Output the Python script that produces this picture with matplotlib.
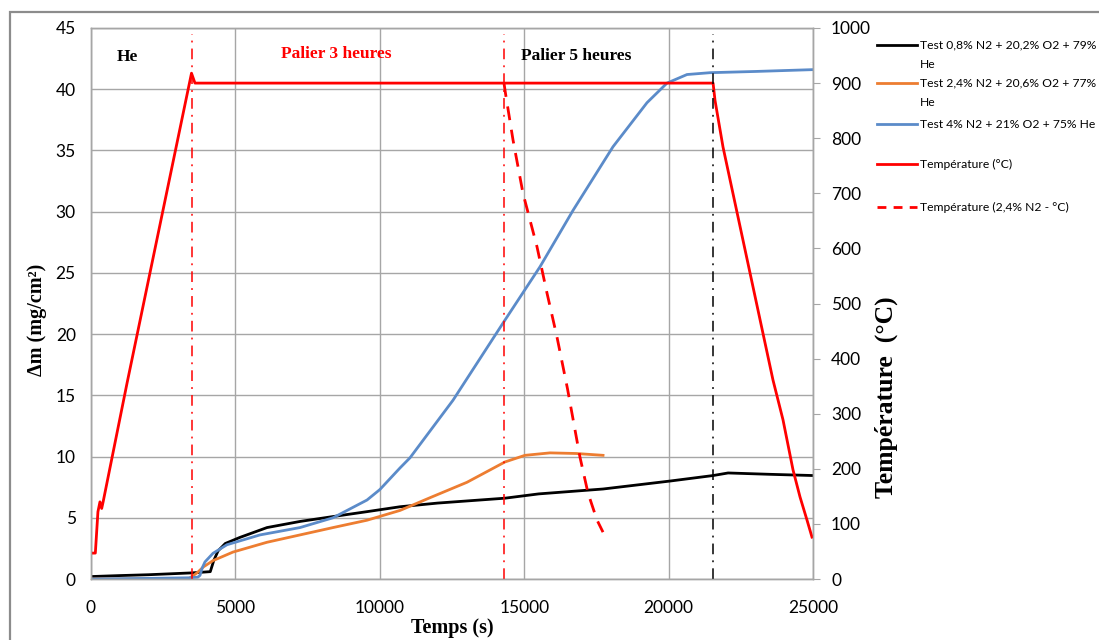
import numpy as np
import matplotlib
matplotlib.use("Agg")
import matplotlib.pyplot as plt
from matplotlib.lines import Line2D
from matplotlib.patches import Rectangle

# --- data ---
t_black = [0, 1000, 2000, 3000, 3500, 4130, 4250, 4400, 4650, 5160, 6094, 7237, 8380,
           9557, 10700, 12000, 14335, 15500, 17730, 20050, 21540, 22060, 23500, 25000]
m_black = [0.2, 0.28, 0.35, 0.45, 0.5, 0.6, 1.5, 2.3, 2.9, 3.4, 4.2, 4.7, 5.1,
           5.5, 5.9, 6.2, 6.6, 6.95, 7.35, 8.0, 8.45, 8.66, 8.55, 8.45]

t_orange = [0, 1500, 3000, 3400, 3670, 3900, 4225, 4917, 6094, 7237, 8380, 9557,
            10700, 11800, 13020, 14335, 15027, 15893, 16800, 17730]
m_orange = [0.0, 0.0, 0.0, 0.05, 0.5, 1.0, 1.5, 2.2, 3.0, 3.6, 4.2, 4.8,
            5.6, 6.7, 7.9, 9.56, 10.1, 10.3, 10.25, 10.1]

t_blue = [0, 2000, 3400, 3700, 3775, 3850, 3948, 4225, 4709, 5850, 7237, 8380, 9557,
          10000, 10700, 11046, 12535, 14266, 15547, 16689, 18074, 19252, 19945, 20637,
          21434, 23000, 25000]
m_blue = [0.0, 0.05, 0.1, 0.15, 0.3, 0.9, 1.4, 2.1, 2.8, 3.6, 4.2, 5.0, 6.45,
          7.3, 9.07, 9.9, 14.6, 20.9, 25.5, 30.1, 35.3, 38.9, 40.5, 41.2,
          41.35, 41.45, 41.6]

t_temp = [0, 150, 240, 310, 370, 420, 1246, 3480, 3600, 21540, 21606, 21884,
          23615, 23961, 24308, 24550, 24792, 24965]
T_temp = [47, 47, 122, 140, 128, 140, 355, 918, 900, 900, 869, 784,
          361, 289, 198, 149, 107, 76]

t_temp24 = [14300, 14350, 14612, 14958, 15443, 15789, 16136, 16500, 16932, 17209, 17521, 17729]
T_temp24 = [900, 882, 797, 700, 603, 519, 439, 345, 221, 156, 107, 85]

t_marks_red = [3500, 14300]
t_mark_black = 21540

labels = ["Test 0,8% N2 + 20,2% O2 + 79%\nHe",
          "Test 2,4% N2 + 20,6% O2 + 77%\nHe",
          "Test 4% N2 + 21% O2 + 75% He",
          "Température (°C)",
          "Température (2,4% N2 - °C)"]

sans = ["Lato", "DejaVu Sans"]
serif = ["Liberation Serif", "DejaVu Serif"]
plt.rcParams['font.family'] = sans

c_black = "black"
c_orange = "#ED7D31"
c_blue = "#5B8BC9"
c_red = "#FF0000"
c_grid = "#A6A6A6"

W, H = 1099, 640
fig = plt.figure(figsize=(W / 100, H / 100), dpi=100)
ax = fig.add_axes([91 / W, 1 - 579 / H, (813 - 91) / W, (579 - 28) / H])
ax2 = ax.twinx()

# outer frame of the chart
fig.patches.append(Rectangle((10 / W, -0.1), 1.2, 1 - 12 / H + 0.1, transform=fig.transFigure,
                             fill=False, edgecolor="#8C8C8C", lw=1.6))

ax.plot(t_black, m_black, color=c_black, lw=2)
ax.plot(t_orange, m_orange, color=c_orange, lw=2)
ax.plot(t_blue, m_blue, color=c_blue, lw=2)

ax2.plot(t_temp, T_temp, color=c_red, lw=2)
ax2.plot(t_temp24, T_temp24, color=c_red, lw=2, linestyle=(0, (5, 3.5)))
for t in t_marks_red:
    ax2.axvline(t, ymax=0.99, color=c_red, lw=1.1, linestyle=(0, (7, 4, 1.2, 4)))
ax2.axvline(t_mark_black, ymax=0.99, color=c_black, lw=1.1, linestyle=(0, (7, 4, 1.2, 4)))

ax.set_xlim(0, 25000)
ax.set_ylim(0, 45)
ax2.set_ylim(0, 1000)
ax.set_xticks(range(0, 25001, 5000))
ax.set_yticks(range(0, 46, 5))
ax2.set_yticks(range(0, 1001, 100))
ax.grid(True, color=c_grid, lw=1)
ax.set_axisbelow(True)

for a in (ax, ax2):
    for s in a.spines.values():
        s.set_color(c_grid)
        s.set_linewidth(1)
ax.tick_params(axis='both', length=0, labelsize=12.5)
ax.tick_params(axis='x', pad=15)
ax.tick_params(axis='y', pad=11)
ax2.tick_params(axis='y', length=5, color=c_grid, labelsize=12.5, pad=8)

ax.set_xlabel("Temps (s)", family=serif, fontweight="bold", fontsize=14.5)
ax.xaxis.set_label_coords(0.5, -0.071)
ax.set_ylabel("Δm (mg/cm²)", family=serif, fontweight="bold", fontsize=14.5)
ax.yaxis.set_label_coords(-0.061, 0.47)
ax2.set_ylabel("Température  (°C)", family=serif, fontweight="bold", fontsize=18.5)
ax2.yaxis.set_label_coords(1.085, 0.33)

ax.text(1250, 42.6, "He", family=serif, fontweight="bold", fontsize=12.5, ha="center", va="center")
ax.text(8500, 42.9, "Palier 3 heures", family=serif, fontweight="bold", fontsize=12.5,
        color=c_red, ha="center", va="center")
ax.text(16800, 42.7, "Palier 5 heures", family=serif, fontweight="bold", fontsize=12.5,
        ha="center", va="center")

# legend drawn by hand to match the layout
handles = [(c_black, "-"), (c_orange, "-"), (c_blue, "-"), (c_red, "-"), (c_red, (0, (3.2, 2.6)))]
rows = [45, 83, 124, 164, 207]
for (col, ls), lab, y in zip(handles, labels, rows):
    fy = 1 - y / H
    fig.add_artist(Line2D([877 / W, 917 / W], [fy, fy], transform=fig.transFigure,
                          color=col, lw=2, linestyle=ls))
    for i, line in enumerate(lab.split("\n")):
        fig.text(920 / W, 1 - (y + 19 * i) / H, line, fontsize=8.7, va="center", ha="left")

fig.savefig("out.png", dpi=100)
